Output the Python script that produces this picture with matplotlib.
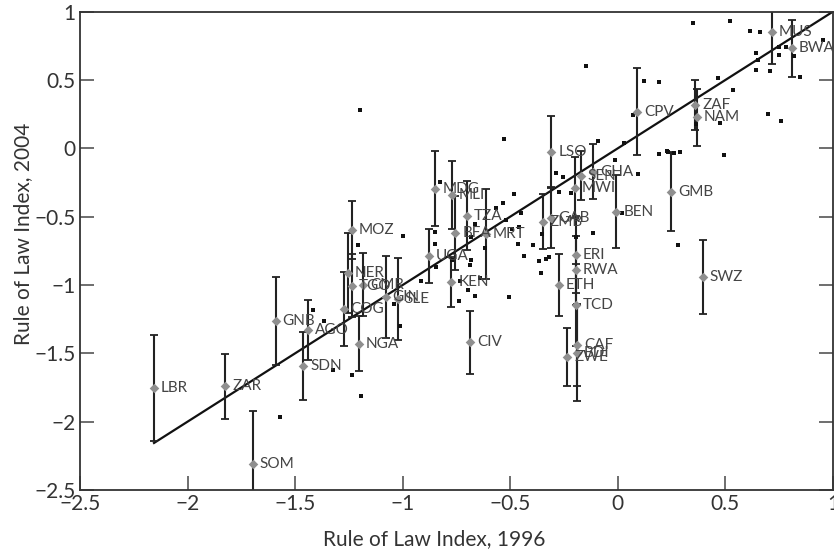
import matplotlib
matplotlib.use("Agg")
import matplotlib.pyplot as plt
import numpy as np

# labelled countries: 1996 index, 2004 index, 2004 error band
codes = ["LBR", "ZAR", "GNB", "AGO", "SDN", "SOM", "MOZ", "NER", "TGO", "CMR",
         "COG", "NGA", "GIN", "SLE", "UGA", "MDG", "MLI", "TZA", "BFA", "MRT",
         "KEN", "CIV", "LSO", "ZMB", "GAB", "SEN", "GHA", "MWI", "BEN", "GMB",
         "ERI", "RWA", "TCD", "ETH", "CAF", "BDI", "ZWE", "CPV", "ZAF", "NAM",
         "MUS", "BWA", "SWZ"]
rol96 = [-2.156, -1.825, -1.591, -1.442, -1.463, -1.697, -1.238, -1.254, -1.235, -1.184,
         -1.274, -1.204, -1.080, -1.024, -0.877, -0.849, -0.771, -0.700, -0.755, -0.614,
         -0.774, -0.686, -0.309, -0.348, -0.309, -0.173, -0.116, -0.201, -0.007, 0.248,
         -0.194, -0.194, -0.194, -0.274, -0.190, -0.190, -0.235, 0.089, 0.360, 0.368,
         0.716, 0.809, 0.394]
rol04 = [-1.754, -1.742, -1.262, -1.330, -1.591, -2.309, -0.597, -0.913, -1.004, -0.999,
         -1.174, -1.430, -1.091, -1.100, -0.787, -0.297, -0.341, -0.492, -0.621, -0.628,
         -0.979, -1.420, -0.024, -0.536, -0.511, -0.202, -0.170, -0.287, -0.463, -0.317,
         -0.779, -0.894, -1.145, -0.999, -1.437, -1.498, -1.527, 0.268, 0.317, 0.227,
         0.849, 0.732, -0.940]
err04 = [0.39, 0.235, 0.32, 0.22, 0.25, 0.384, 0.214, 0.29, 0.23, 0.23,
         0.27, 0.20, 0.30, 0.30, 0.20, 0.275, 0.25, 0.25, 0.27, 0.33,
         0.18, 0.23, 0.26, 0.20, 0.22, 0.18, 0.20, 0.22, 0.27, 0.29,
         0.28, 0.25, 0.30, 0.225, 0.30, 0.35, 0.21, 0.32, 0.18, 0.21,
         0.23, 0.21, 0.27]

# other countries (unlabelled)
other96 = [-1.416, -1.571, -1.367, -1.326, -1.238, -1.206, -0.998, -1.042, -1.014, -1.192,
           -0.916, -0.851, -0.848, -0.844, -0.828, -0.771, -0.735, -0.738, -0.696, -0.665,
           -0.665, -0.681, -0.681, -0.686, -0.642, -0.619, -0.568, 0.348, 0.519, 0.615,
           0.661, 0.751, 0.782, 0.643, 0.651, 0.747, 0.818, 0.640, 0.708, 0.845,
           0.952, 0.465, 0.535, 0.120, 0.189, 0.070, 0.027, 0.361, 0.476, 0.699,
           0.759, 0.191, 0.233, 0.259, 0.291, 0.492, 0.093, -0.015, -0.147, -0.093,
           -0.289, -0.255, -0.531, -0.274, -0.217, 0.021, -0.483, -0.534, -0.449, -0.518,
           -0.491, -0.461, -0.464, -0.395, -0.353, -0.436, -0.367, -0.333, -0.320, -0.359,
           -0.506, -0.196, -0.116, 0.280, 0.229, -1.200]
other04 = [-1.181, -1.966, -1.267, -1.620, -1.657, -0.711, -0.645, -1.140, -1.303, -1.815,
           -0.974, -0.609, -0.699, -0.865, -0.248, -0.816, -0.974, -1.120, -1.040, -1.084,
           -0.553, -0.650, -0.816, -0.852, -0.950, -0.730, -0.438, 0.914, 0.931, 0.858,
           0.849, 0.743, 0.743, 0.695, 0.646, 0.683, 0.675, 0.573, 0.568, 0.519,
           0.792, 0.512, 0.427, 0.493, 0.483, 0.244, 0.042, 0.178, 0.188, 0.249,
           0.203, -0.043, -0.024, -0.036, -0.024, -0.048, -0.185, -0.085, 0.605, 0.054,
           -0.178, -0.211, 0.069, -0.317, -0.324, -0.477, -0.336, -0.397, -0.470, -0.523,
           -0.591, -0.577, -0.699, -0.708, -0.626, -0.787, -0.823, -0.811, -0.796, -0.909,
           -1.091, -0.650, -0.621, -0.706, -0.022, 0.280]

ticks = [-2.5, -2, -1.5, -1, -0.5, 0, 0.5, 1]
tick_labels = ["\u22122.5", "\u22122", "\u22121.5", "\u22121", "\u22120.5", "0", "0.5", "1"]

axfont = ["Lato", "DejaVu Sans"]

fig = plt.figure(figsize=(8.34, 5.53), dpi=100)
ax = fig.add_axes([80 / 834, 1 - 490 / 553, 753 / 834, 478.4 / 553])

# 45 degree line from lowest 1996 value to the right edge
diag = np.array([min(rol96), 1.0])
ax.plot(diag, diag, color="#111111", lw=1.6, zorder=2)

ax.scatter(other96, other04, marker="s", s=9, color="#111111", zorder=3, linewidths=0)

ax.errorbar(rol96, rol04, yerr=err04, fmt="none", ecolor="#222222",
            elinewidth=1.5, capsize=3, capthick=1.3, zorder=2)
ax.scatter(rol96, rol04, marker="D", s=24, color="#8f8f8f", zorder=4, linewidths=0)

for c, x, y in zip(codes, rol96, rol04):
    ax.annotate(c, (x, y), xytext=(5, 0), textcoords="offset points",
                va="center", ha="left", fontsize=11, color="#444444",
                family=["Lato", "DejaVu Sans"], zorder=5)

ax.set_xlim(-2.5, 1)
ax.set_ylim(-2.5, 1)
ax.set_xticks(ticks)
ax.set_yticks(ticks)
ax.set_xticklabels(tick_labels, family=axfont, fontsize=15, color="#333333")
ax.set_yticklabels(tick_labels, family=axfont, fontsize=15, color="#333333")
ax.tick_params(direction="in", length=10, width=1.2, color="#555555",
               right=True, top=False, pad=3)
ax.set_xlabel("Rule of Law Index, 1996", family=axfont, fontsize=15, color="#333333", labelpad=11)
ax.set_ylabel("Rule of Law Index, 2004", family=axfont, fontsize=15, color="#333333", labelpad=1)
ax.xaxis.label.set_x(0.47)
ax.yaxis.label.set_y(0.535)
for s in ax.spines.values():
    s.set_linewidth(1.3)
    s.set_color("#333333")

fig.savefig("out.png", dpi=100)
